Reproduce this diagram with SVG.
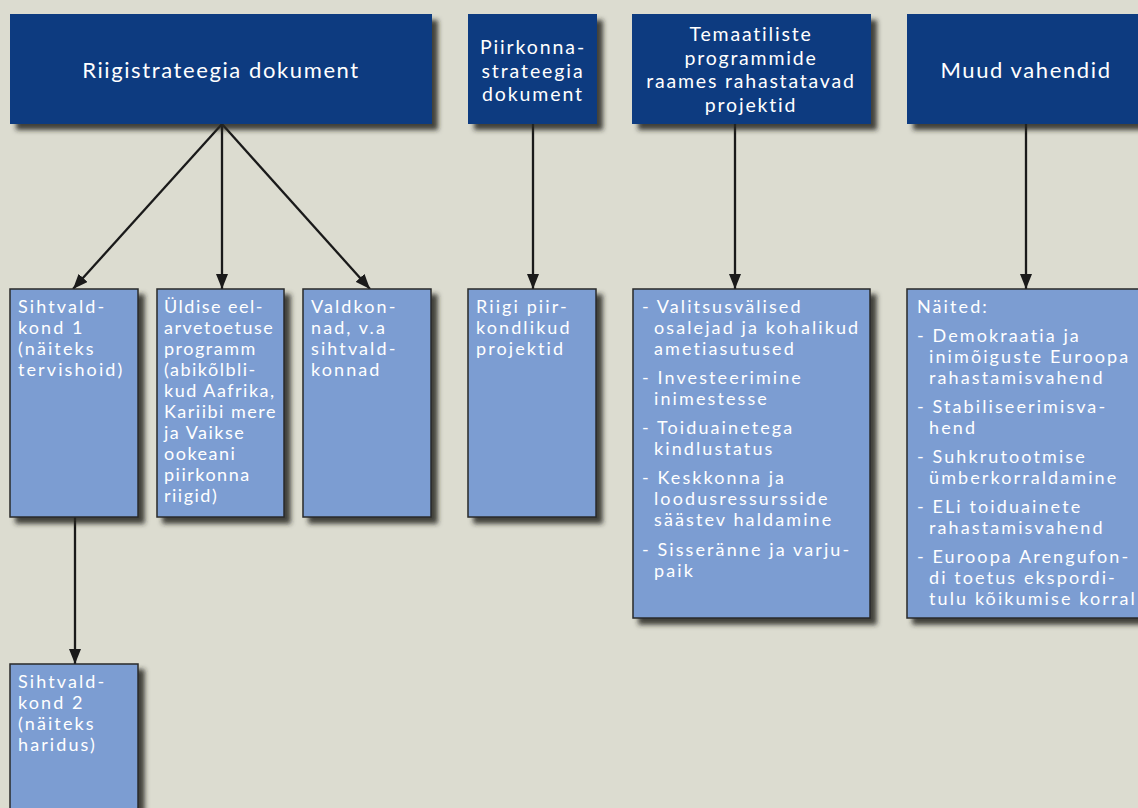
<svg xmlns="http://www.w3.org/2000/svg" width="1138" height="808" viewBox="0 0 1138 808">
<defs>
<filter id="sh" x="-10%" y="-10%" width="130%" height="130%">
<feDropShadow dx="6" dy="6" stdDeviation="2.8" flood-color="#26261f" flood-opacity="0.85"/>
</filter>
<marker id="ah" viewBox="0 0 15 12" refX="15" refY="6" markerWidth="15" markerHeight="12" markerUnits="userSpaceOnUse" orient="auto">
<path d="M0,0 L15,6 L0,12 Z" fill="#1a1a1a"/>
</marker>
<style>
.hd{fill:#083a80;filter:url(#sh)}
.bx{fill:#7b9dd2;stroke:#2a2a2a;stroke-width:1.5;filter:url(#sh)}
.ht{font-family:Lato,"Open Sans",sans-serif;font-size:22px;fill:#ffffff;text-anchor:middle;letter-spacing:1.6px}
.h2{font-size:19.5px;letter-spacing:1.9px}
.h3{font-size:19.5px;letter-spacing:1.8px}
.bt{font-family:Lato,"Open Sans",sans-serif;font-size:18px;fill:#ffffff;letter-spacing:2.1px}
.nb{letter-spacing:1.5px}
.cn{stroke:#1a1a1a;stroke-width:2.3;fill:none;marker-end:url(#ah)}
</style>
</defs>
<rect width="1138" height="808" fill="#dcdcd0"/>
<g id="connectors">
<line class="cn" x1="222" y1="124" x2="73" y2="289"/>
<line class="cn" x1="222" y1="124" x2="222" y2="289"/>
<line class="cn" x1="222" y1="124" x2="370" y2="289"/>
<line class="cn" x1="533" y1="124" x2="533" y2="289"/>
<line class="cn" x1="735" y1="124" x2="735" y2="289"/>
<line class="cn" x1="1026" y1="124" x2="1026" y2="289"/>
<line class="cn" x1="75" y1="517" x2="75" y2="664"/>
</g>
<g id="h1">
<rect class="hd" x="10" y="14" width="422" height="110"/>
<text class="ht" x="221" y="78">Riigistrateegia dokument</text>
</g>
<g id="h2">
<rect class="hd" x="468" y="14" width="129" height="110"/>
<text class="ht h2" x="533" y="54">Piirkonna-</text>
<text class="ht h2" x="533" y="77.5">strateegia</text>
<text class="ht h2" x="533" y="101">dokument</text>
</g>
<g id="h3">
<rect class="hd" x="632" y="14" width="239" height="110"/>
<text class="ht h3" x="751" y="41">Temaatiliste</text>
<text class="ht h3" x="751" y="64.5">programmide</text>
<text class="ht h3" x="751" y="88">raames rahastatavad</text>
<text class="ht h3" x="751" y="111.5">projektid</text>
</g>
<g id="h4">
<rect class="hd" x="907" y="14" width="240" height="110"/>
<text class="ht" x="1026" y="78">Muud vahendid</text>
</g>
<g id="b1">
<rect class="bx" x="10" y="289" width="128" height="228"/>
<text class="bt" x="18" y="313">Sihtvald-</text>
<text class="bt" x="18" y="334">kond 1</text>
<text class="bt" x="18" y="355">(näiteks</text>
<text class="bt" x="18" y="376">tervishoid)</text>
</g>
<g id="b2">
<rect class="bx" x="157" y="289" width="127" height="228"/>
<text class="bt nb" x="164" y="313">Üldise eel-</text>
<text class="bt nb" x="164" y="334">arvetoetuse</text>
<text class="bt nb" x="164" y="355">programm</text>
<text class="bt nb" x="164" y="376">(abikõlbli-</text>
<text class="bt nb" x="164" y="397">kud Aafrika,</text>
<text class="bt nb" x="164" y="418">Kariibi mere</text>
<text class="bt nb" x="164" y="439">ja Vaikse</text>
<text class="bt nb" x="164" y="460">ookeani</text>
<text class="bt nb" x="164" y="481">piirkonna</text>
<text class="bt nb" x="164" y="502">riigid)</text>
</g>
<g id="b3">
<rect class="bx" x="303" y="289" width="128" height="228"/>
<text class="bt" x="311" y="313">Valdkon-</text>
<text class="bt" x="311" y="334">nad, v.a</text>
<text class="bt" x="311" y="355">sihtvald-</text>
<text class="bt" x="311" y="376">konnad</text>
</g>
<g id="b4">
<rect class="bx" x="468" y="289" width="128" height="228"/>
<text class="bt" x="476" y="313">Riigi piir-</text>
<text class="bt" x="476" y="334">kondlikud</text>
<text class="bt" x="476" y="355">projektid</text>
</g>
<g id="b5">
<rect class="bx" x="633" y="289" width="237" height="329"/>
<text class="bt" x="642" y="313">- Valitsusvälised</text>
<text class="bt" x="654" y="334">osalejad ja kohalikud</text>
<text class="bt" x="654" y="355">ametiasutused</text>
<text class="bt" x="642" y="384">- Investeerimine</text>
<text class="bt" x="654" y="405">inimestesse</text>
<text class="bt" x="642" y="434">- Toiduainetega</text>
<text class="bt" x="654" y="455">kindlustatus</text>
<text class="bt" x="642" y="484">- Keskkonna ja</text>
<text class="bt" x="654" y="505">loodusressursside</text>
<text class="bt" x="654" y="526">säästev haldamine</text>
<text class="bt" x="642" y="556">- Sisseränne ja varju-</text>
<text class="bt" x="654" y="577">paik</text>
</g>
<g id="b6">
<rect class="bx" x="907" y="289" width="240" height="329"/>
<text class="bt" x="917" y="313">Näited:</text>
<text class="bt" x="917" y="342">- Demokraatia ja</text>
<text class="bt" x="929" y="363">inimõiguste Euroopa</text>
<text class="bt" x="929" y="384">rahastamisvahend</text>
<text class="bt" x="917" y="413">- Stabiliseerimisva-</text>
<text class="bt" x="929" y="434">hend</text>
<text class="bt" x="917" y="463">- Suhkrutootmise</text>
<text class="bt" x="929" y="484">ümberkorraldamine</text>
<text class="bt" x="917" y="513">- ELi toiduainete</text>
<text class="bt" x="929" y="534">rahastamisvahend</text>
<text class="bt" x="917" y="563">- Euroopa Arengufon-</text>
<text class="bt" x="929" y="584">di toetus  ekspordi-</text>
<text class="bt" x="929" y="605">tulu kõikumise korral</text>
</g>
<g id="b7">
<rect class="bx" x="10" y="664" width="128" height="160"/>
<text class="bt" x="18" y="688">Sihtvald-</text>
<text class="bt" x="18" y="709">kond 2</text>
<text class="bt" x="18" y="730">(näiteks</text>
<text class="bt" x="18" y="751">haridus)</text>
</g>
</svg>
